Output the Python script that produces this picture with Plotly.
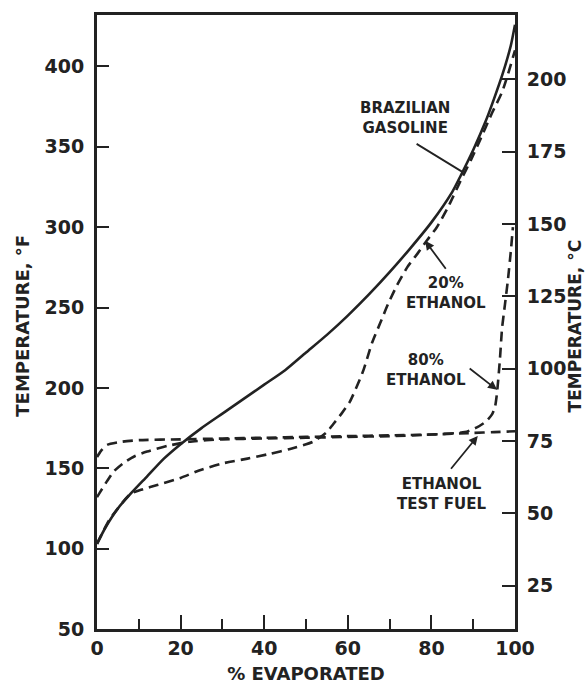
import plotly.graph_objects as go

# ---- data ----
gas_x = [0, 2, 5, 8, 12, 16, 20, 25, 30, 35, 40, 45, 50, 55, 60, 65, 70, 75, 80, 85, 87, 90, 93, 95, 97, 99, 100]
gas_f = [103, 113, 125, 134, 145, 156, 165, 175, 184, 193, 202, 211, 222, 233, 245, 258, 272, 287, 303, 322, 332, 348, 366, 380, 395, 413, 426]

e20_x = [0, 3, 8, 11, 14.4, 20, 24.6, 30, 36, 41.4, 46.2, 51.7, 55, 56.5, 58.5, 60.5, 63.6, 65.8, 67.7, 69.6, 71.8, 74.2, 76.8, 79, 81.3, 83.7, 85.2, 87, 89.5, 91.6, 94.5, 96.9, 98.3, 100]
e20_f = [103, 118, 134, 137, 139.6, 144, 148.8, 153, 156, 159, 162, 166.5, 172.6, 177.4, 184, 191.5, 210, 228, 240, 252, 264, 275, 284, 292, 300, 311, 319, 329, 342, 354, 371, 384, 395, 410]

e80_x = [0, 0.7, 2.4, 4, 6.2, 9, 12, 17, 22, 30, 40, 50, 60, 70, 80, 88, 91, 93, 94.5, 95.2, 95.7, 96.4, 96.9, 97.6, 98.3, 99, 99.5]
e80_f = [132, 135, 142, 148, 153, 157.5, 160.4, 164, 166.5, 168, 168.5, 169, 169.5, 170, 171, 172.5, 175.6, 179, 183.5, 188, 197, 218, 237, 252, 267, 285, 300]

etf_x = [0, 1, 2.4, 6, 10, 20, 30, 40, 50, 60, 70, 80, 90, 95, 100]
etf_f = [157, 161, 164.5, 166.5, 167.5, 168, 168.5, 169, 169.5, 170, 170.5, 171, 172, 172.5, 173]

x_ticks = [0, 20, 40, 60, 80, 100]
f_ticks = [50, 100, 150, 200, 250, 300, 350, 400]
c_ticks = [25, 50, 75, 100, 125, 150, 175, 200]
f_range = [50, 432]

INK = "#222222"
FONT = "DejaVu Sans"

def f_to_c(f):
    return (f - 32) * 5 / 9

fig = go.Figure()
line_common = dict(color=INK, width=2.6, shape="spline", smoothing=0.6)
fig.add_trace(go.Scatter(x=gas_x, y=gas_f, mode="lines", line=line_common,
                         name="Brazilian gasoline", hoverinfo="skip"))
for xs, ys, nm in [(e20_x, e20_f, "20% ethanol"), (e80_x, e80_f, "80% ethanol"), (etf_x, etf_f, "Ethanol test fuel")]:
    fig.add_trace(go.Scatter(x=xs, y=ys, mode="lines", line=dict(line_common, dash="10px,6px"),
                             name=nm, hoverinfo="skip"))
# invisible trace on the Celsius axis so that it is drawn
fig.add_trace(go.Scatter(x=etf_x, y=[f_to_c(v) for v in etf_f], mode="lines", yaxis="y2",
                         line=dict(color="rgba(0,0,0,0)"), hoverinfo="skip", showlegend=False))

lab_font = dict(family=FONT, size=15, color=INK, weight="bold")

labels = [
    ("BRAZILIAN<br>GASOLINE", 73.7, 368),
    ("20%<br>ETHANOL", 83.5, 259),
    ("80%<br>ETHANOL", 78.7, 211),
    ("ETHANOL<br>TEST FUEL", 82.3, 134),
]
for txt, lx, ly in labels:
    fig.add_annotation(x=lx, y=ly, xref="x", yref="y", text=txt, showarrow=False,
                       font=lab_font, align="center", xanchor="center", yanchor="middle")

arrows = [
    (87.6, 334.1, 76.1, 352.4, 0),
    (78.5, 291.5, 83.7, 273.2, 2),
    (95.7, 198.8, 88.8, 212.8, 2),
    (91.1, 170.1, 84.4, 148.8, 2),
]
for tx, ty, sx, sy, head in arrows:
    fig.add_annotation(x=tx, y=ty, ax=sx, ay=sy, xref="x", yref="y", axref="x", ayref="y",
                       text="", showarrow=True, arrowhead=head, arrowsize=1.0, arrowwidth=1.8,
                       arrowcolor=INK, standoff=0, startstandoff=0)

tick_font = dict(family=FONT, size=19, color=INK, weight="bold")
title_font = dict(family=FONT, size=18, color=INK, weight="bold")
rtitle_font = dict(family=FONT, size=17, color=INK, weight="bold")

# axis titles placed as rotated annotations
fig.add_annotation(x=-0.177, y=0.494, xref="paper", yref="paper", text="TEMPERATURE, °F",
                   textangle=-90, showarrow=False, font=title_font, xanchor="center", yanchor="middle")
fig.add_annotation(x=1.143, y=0.494, xref="paper", yref="paper", text="TEMPERATURE, °C",
                   textangle=-90, showarrow=False, font=rtitle_font, xanchor="center", yanchor="middle")

fig.update_layout(
    width=587, height=693,
    margin=dict(l=97, r=72, t=13, b=54),
    paper_bgcolor="white", plot_bgcolor="white",
    showlegend=False,
    xaxis=dict(range=[0, 100], tickvals=x_ticks, ticks="inside", ticklen=14, tickwidth=2, tickcolor=INK,
               showline=True, linewidth=3, linecolor=INK, mirror=True, showgrid=False, zeroline=False,
               tickfont=tick_font,
               minor=dict(dtick=10, ticks="inside", ticklen=10, tickwidth=2, tickcolor=INK, showgrid=False),
               title=dict(text="% EVAPORATED", font=title_font, standoff=10)),
    yaxis=dict(range=f_range, tickvals=f_ticks, ticks="inside", ticklen=12, tickwidth=2, tickcolor=INK,
               showline=True, linewidth=3, linecolor=INK, showgrid=False, zeroline=False,
               tickfont=tick_font, ticklabelstandoff=6),
    yaxis2=dict(range=[f_to_c(f_range[0]), f_to_c(f_range[1])], tickvals=c_ticks, overlaying="y", side="right",
                ticks="inside", ticklen=13, tickwidth=2, tickcolor=INK,
                showline=True, linewidth=3, linecolor=INK, showgrid=False, zeroline=False,
                tickfont=tick_font, ticklabelstandoff=5),
)

fig.write_html("out.html", config={"displayModeBar": False},
               post_script="document.body.style.margin='0px';document.body.style.overflow='hidden';")
